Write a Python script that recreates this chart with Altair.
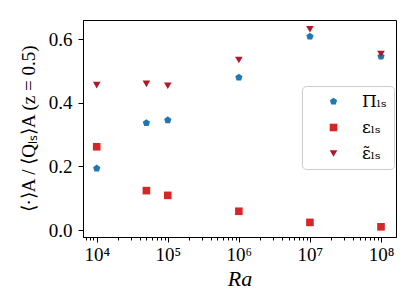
import altair as alt
import pandas as pd

ra = [1e4, 5e4, 1e5, 1e6, 1e7, 1e8]
pi_ls = [0.194, 0.337, 0.346, 0.480, 0.609, 0.546]
eps_ls = [0.262, 0.124, 0.109, 0.059, 0.024, 0.010]
eps_t_ls = [0.456, 0.460, 0.454, 0.535, 0.632, 0.554]

names = ["Πₗₛ", "εₗₛ", "ε̃ₗₛ"]
colors = ["#1f77b4", "#d62728", "#b2182b"]
pentagon = "M0,-1L0.951,-0.309L0.588,0.809L-0.588,0.809L-0.951,-0.309Z"
shapes = [pentagon, "square", "triangle-down"]

y_ticks = [0.0, 0.2, 0.4, 0.6]
majors = [10000, 100000, 1000000, 10000000, 100000000]
x_ticks = [m * 10 ** k for k in range(3, 9) for m in range(1, 10)
           if 10 ** 3.807 <= m * 10 ** k <= 10 ** 8.211]

rows = []
for n, vals in zip(names, [pi_ls, eps_ls, eps_t_ls]):
    for r, v in zip(ra, vals):
        rows.append({"series": n, "Ra": r, "value": v})
df = pd.DataFrame(rows)

FONT = "Liberation Serif"
maj = "[" + ",".join(str(m) for m in majors) + "]"
label_expr = (f"indexof({maj}, datum.value) >= 0 ? '10' + "
              f"['⁴','⁵','⁶','⁷','⁸'][indexof({maj}, datum.value)] : ''")

chart = alt.Chart(df).mark_point(filled=True, size=58, opacity=1).encode(
    x=alt.X("Ra:Q",
            scale=alt.Scale(type="log", domain=[10 ** 3.807, 10 ** 8.211], nice=False),
            axis=alt.Axis(values=x_ticks, labelExpr=label_expr, labelOverlap=False,
                          labelFlush=False,
                          tickSize={"condition": {"test": f"indexof({maj}, datum.value) >= 0",
                                                  "value": 5}, "value": 3},
                          labelPadding=3, titleFontStyle="italic", titleFontSize=22,
                          titlePadding=4),
            title="Ra"),
    y=alt.Y("value:Q",
            scale=alt.Scale(domain=[-0.022, 0.661], nice=False, zero=False),
            axis=alt.Axis(values=y_ticks, format=".1f", tickSize=5, labelPadding=6,
                          titleFontSize=19, titlePadding=10),
            title="⟨·⟩A / ⟨Qₗₛ⟩A (z = 0.5)"),
    color=alt.Color("series:N", scale=alt.Scale(domain=names, range=colors),
                    legend=alt.Legend(title=None, orient="none", legendX=219, legendY=66,
                                      strokeColor="#cccccc", fillColor="white",
                                      cornerRadius=4, padding=7, labelFont="DejaVu Serif",
                                      labelFontSize=17, symbolSize=58, rowPadding=8,
                                      symbolOffset=16, labelOffset=20, symbolOpacity=1)),
    shape=alt.Shape("series:N", scale=alt.Scale(domain=names, range=shapes)),
).properties(
    width=313, height=217,
    padding={"left": 11, "top": 12, "right": 5, "bottom": 5},
).configure_view(
    stroke="black", strokeWidth=1
).configure_axis(
    grid=False, domainColor="black", tickColor="black", labelColor="black",
    titleColor="black", labelFont=FONT, titleFont=FONT, labelFontSize=19,
    titleFontWeight="normal", domainWidth=1, tickWidth=1
)

chart.save("out.html", embed_options={"renderer": "svg", "actions": False})
